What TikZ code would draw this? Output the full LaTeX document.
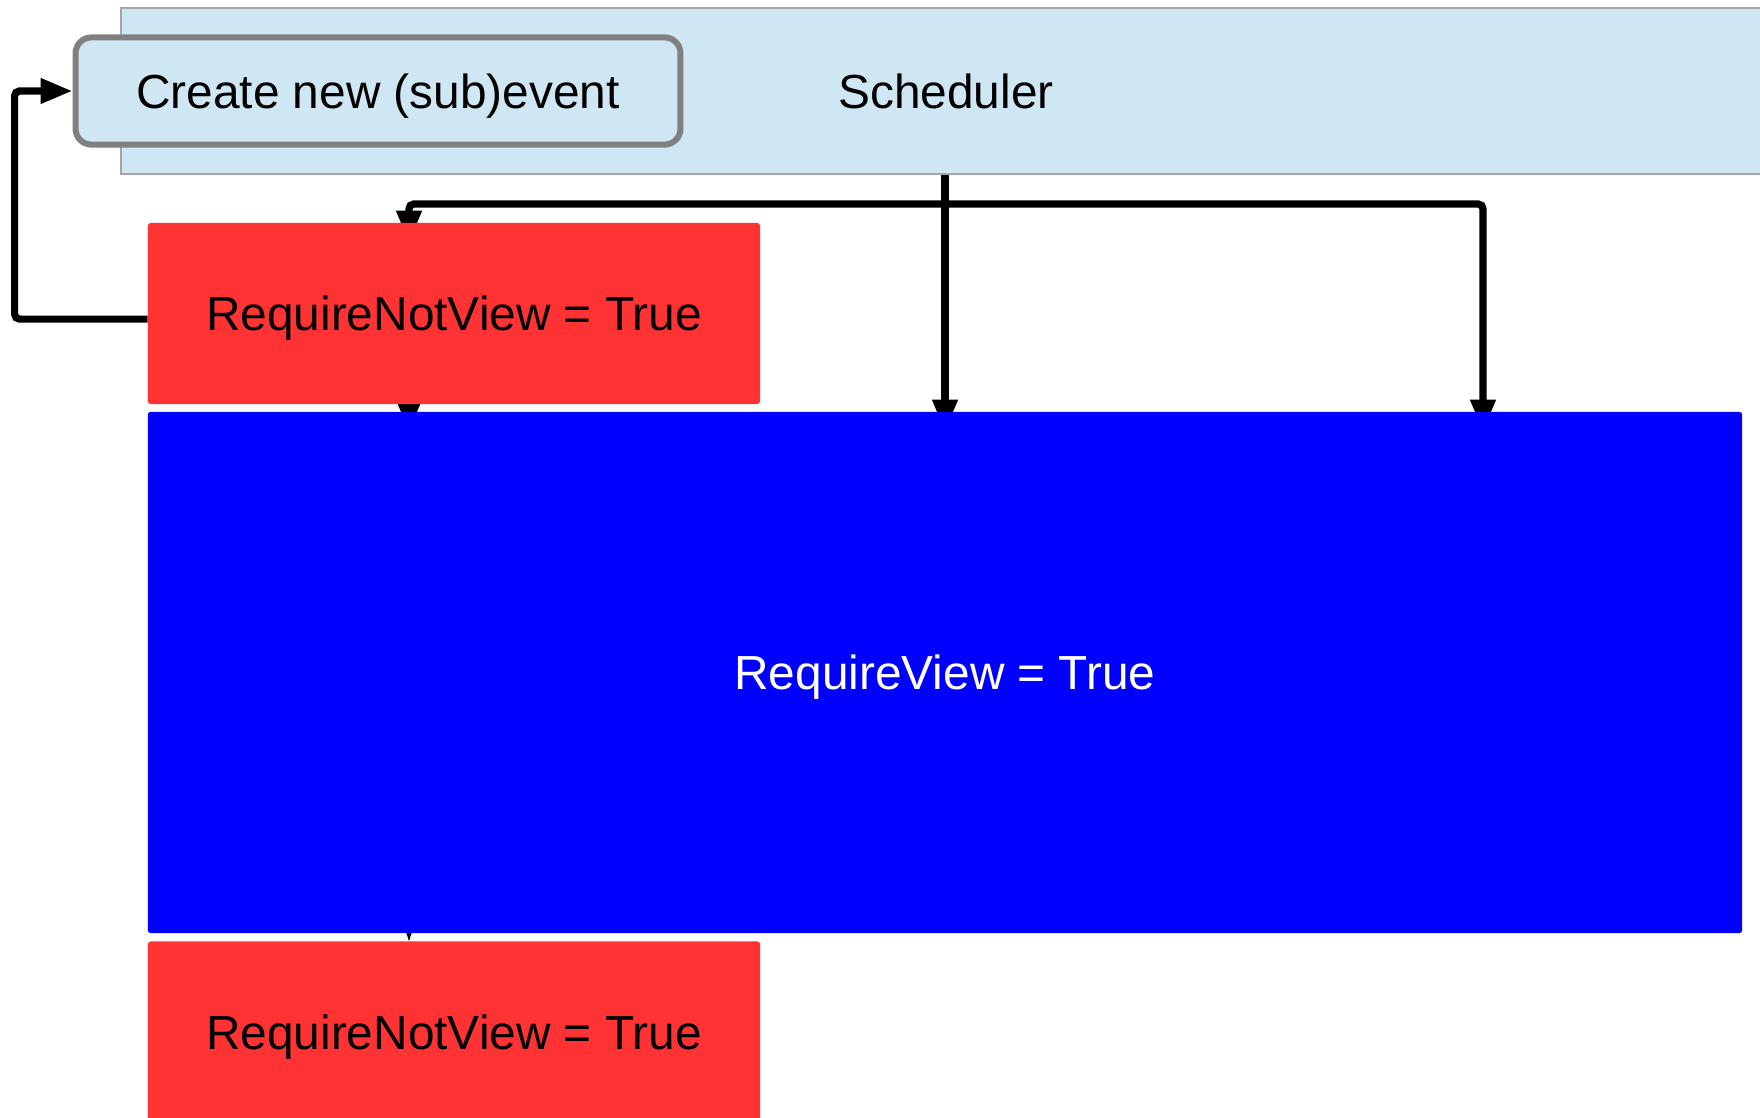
\documentclass[tikz,border=0pt]{standalone}
\usepackage{fontspec}
\setmainfont{Liberation Sans}
\usetikzlibrary{arrows.meta,backgrounds}

\definecolor{schedblue}{RGB}{207,230,243}
\definecolor{notviewred}{RGB}{255,51,51}
\definecolor{viewblue}{RGB}{0,0,255}

\tikzset{
	boxfont/.style={font=\fontsize{34}{40}\selectfont, text depth=0pt},
	schedband/.style={boxfont, fill=schedblue, draw=black!35, line width=0.05cm, minimum width=41.25cm, minimum height=4.15cm, inner sep=0pt},
	createbox/.style={boxfont, fill=schedblue, draw=black!50, line width=0.15cm, rounded corners=0.4cm, minimum width=15.12cm, minimum height=2.68cm, inner sep=0pt},
	notview/.style={boxfont, fill=notviewred, rounded corners=0.07cm, minimum width=15.3cm, minimum height=4.525cm, inner sep=0pt},
	viewbox/.style={boxfont, text=white, fill=viewblue, rounded corners=0.07cm, minimum width=39.85cm, minimum height=13.025cm, inner sep=0pt},
	flow/.style={line width=0.18cm, rounded corners=0.12cm, -{Triangle[length=0.8cm,width=0.6cm]}},
	sink/.style={shorten >=-0.5cm},
	thinflow/.style={line width=0.03cm, -{Triangle[length=0.25cm,width=0.15cm]}}
}

\begin{document}
\begin{tikzpicture}[x=0.025cm, y=-0.025cm]
			%%%%% START %%%%%
			\useasboundingbox (0, 0) rectangle (1760, 1117);
			
			\node[schedband] (sched) at (946, 91) {Scheduler};
			\node[createbox] (create) at (378, 91) {Create new (sub)event};
			
			\node[notview] (rnv1) at (454, 313.5) {RequireNotView = True};
			\node[viewbox] (rv) at (945, 672.5) {RequireView = True};
			\node[notview] (rnv2) at (454, 1032) {RequireNotView = True};
			
			\coordinate (fork) at (945, 204);
			\coordinate (forkL) at (409, 204);
			\coordinate (forkR) at (1483, 204);
			
			\begin{scope}[on background layer]
				% scheduler hands out to all boxes
				\draw[flow, sink] (fork |- sched.south) -- (fork |- rv.north);
				\draw[flow, sink] (fork) -- (forkL) -- (forkL |- rnv1.north);
				\draw[flow, sink] (forkL |- rnv1.south) -- (forkL |- rv.north);
				\draw[flow, sink] (fork) -- (forkR) -- (forkR |- rv.north);
				\draw[thinflow] (forkL |- rv.south) -- (forkL |- rnv2.north);
				
				% back to the event creation
				\draw[flow] ([yshift=-0.14cm]rnv1.west) -- ++(-133, 0) |- (create.west);
			\end{scope}
			%%%%% END %%%%%
\end{tikzpicture}
\end{document}
